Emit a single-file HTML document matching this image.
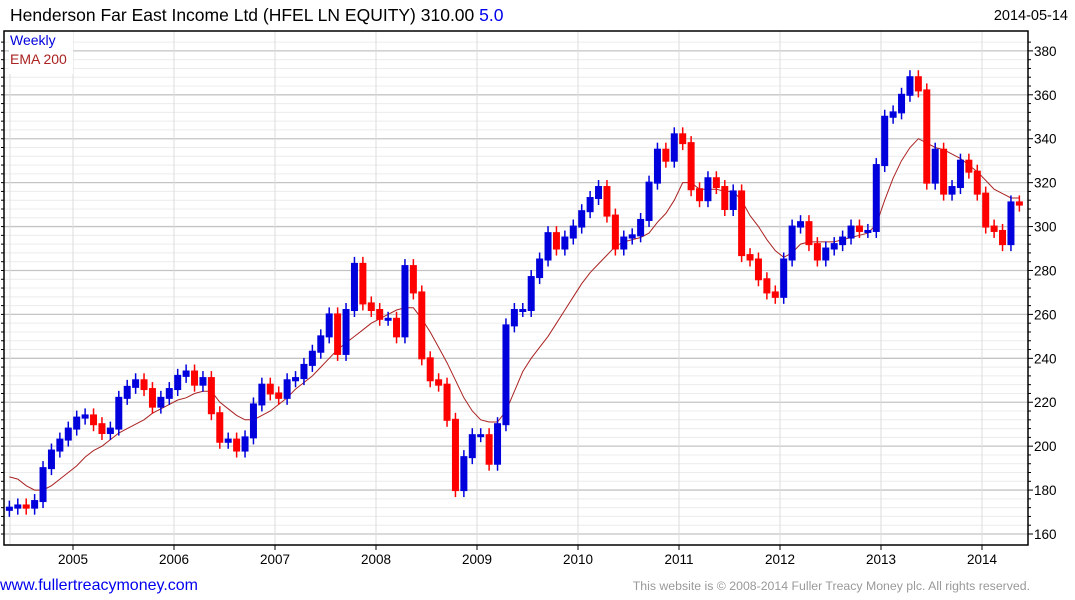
<!DOCTYPE html>
<html><head><meta charset="utf-8"><style>
body{margin:0;background:#fff;width:1075px;height:600px;overflow:hidden;font-family:"Liberation Sans",sans-serif;}
svg{position:absolute;left:0;top:0}
</style></head><body>
<svg id="c" width="1075" height="600">
<text x="10" y="21" font-size="17.5" fill="#000">Henderson Far East Income Ltd (HFEL LN EQUITY) 310.00 <tspan fill="#0000ee">5.0</tspan></text>
<text x="1068" y="20" font-size="14.5" text-anchor="end" fill="#000">2014-05-14</text>
<g id="grid"></g><g id="ema"></g><g id="bars"></g><g id="axes"></g>
<rect x="9" y="32" width="64" height="42" fill="#fff"/>
<text x="10" y="45" font-size="14" fill="#0000dd">Weekly</text>
<text x="10" y="64" font-size="14" fill="#aa2222">EMA 200</text>
<text x="0" y="590" font-size="16" fill="#0000ee">www.fullertreacymoney.com</text>
<text x="1030" y="590" font-size="12.3" text-anchor="end" fill="#999">This website is © 2008-2014 Fuller Treacy Money plc. All rights reserved.</text>
</svg>
<script>
const years=['2005','2006','2007','2008','2009','2010','2011','2012','2013','2014'];
const yTicks=[160,180,200,220,240,260,280,300,320,340,360,380];
const closes=[172,173,172,175,190,198,203,208,213,214,210,206,
208,222,227,230,226,218,222,226,232,234,228,231,
215,202,203,198,204,219,228,224,222,230,231,237,
243,250,260,242,262,283,265,262,258,258,250,282,
270,240,230,228,212,180,195,205,205,192,210,255,
262,262,277,285,297,290,295,300,307,313,318,305,
290,295,296,303,320,335,330,342,338,317,312,322,
318,308,316,287,285,276,270,268,285,300,302,292,
285,290,292,295,300,298,298,328,350,352,360,368,
362,320,335,315,318,330,325,315,300,298,292,311,310];
const ema=[186,185,182,180,180,182,185,188,191,195,198,200,
203,206,208,210,212,215,217,219,221,222,224,225,
225,220,217,214,212,212,214,216,219,222,226,229,
232,236,240,244,247,250,253,256,258,260,262,263,
263,258,252,245,238,230,222,216,212,211,211,216,
225,234,240,245,250,256,262,268,274,279,283,287,
291,293,294,295,297,302,306,312,320,320,317,317,
317,316,316,312,305,300,294,289,286,288,292,293,
293,293,293,294,295,296,297,301,312,322,330,336,
340,338,336,335,333,331,328,325,321,317,315,313,313];
const startYear=2004.37;
const ns='http://www.w3.org/2000/svg';
const L=4,R=1028,T=31,B=545;
function X(t){return 73+(t-2005)*101;}
function Y(v){return 534-(v-160)*2.196;}
function mk(tag,attrs,parent){const e=document.createElementNS(ns,tag);for(const k in attrs)e.setAttribute(k,attrs[k]);document.getElementById(parent).appendChild(e);return e;}
for(let v=160;v<=384;v+=4){
  if(Y(v)<T)continue;
  const maj=(v%20===0);
  const g=mk('line',{x1:L,x2:R,y1:Y(v),y2:Y(v),stroke:maj?'#c4c4c4':'#ececec','stroke-width':maj?1.3:1},'grid');
  
  
  const t=mk('line',{x1:R,x2:R+(maj?5:3),y1:Y(v),y2:Y(v),stroke:'#000'},'axes');
  
  
  const t2=mk('line',{x1:L,x2:L-3,y1:Y(v),y2:Y(v),stroke:'#000'},'axes');
  
  
}
yTicks.forEach(v=>{
  const t=mk('text',{x:R+6,y:Y(v)+5,'font-size':13.5,fill:'#000'},'axes');
  t.textContent=v;
  
  
});
const gl=mk('line',{x1:10,x2:10,y1:T,y2:B,stroke:'#ddd'},'grid');


years.forEach(y=>{
  const x=X(+y);
  const g=mk('line',{x1:x,x2:x,y1:T,y2:B,stroke:'#dcdcdc'},'grid');
  
  
  const tk=mk('line',{x1:x,x2:x,y1:B,y2:B+5,stroke:'#000'},'axes');
  
  
  const t=mk('text',{x:x,y:564,'font-size':13.5,'text-anchor':'middle',fill:'#000'},'axes');
  t.textContent=y;
  
  
});
const fr=mk('path',{d:`M${L},${T}H${R}V${B}H${L}Z`,fill:'none',stroke:'#000','stroke-width':1.5},'axes');


let d='';
ema.forEach((v,i)=>{d+=(i?'L':'M')+X(startYear+i/12).toFixed(1)+','+Y(v).toFixed(1);});
const el=mk('path',{d:d,fill:'none',stroke:'#aa2222','stroke-width':1},'ema');


closes.forEach((c,i)=>{
  const o=i?closes[i-1]:c-1;
  const x=X(startYear+i/12);
  const col=c>=o?'#0000dd':'#ff0000';
  const top=Y(Math.max(o,c)),bot=Y(Math.min(o,c));
  const w=mk('line',{x1:x,x2:x,y1:top-7,y2:bot+7,stroke:col,'stroke-width':1.5},'bars');
  
  
  const b=mk('rect',{x:x-3.5,y:top-1,width:7,height:Math.max(3,bot-top+2),fill:col},'bars');
  
  
});
</script>
</body></html>
